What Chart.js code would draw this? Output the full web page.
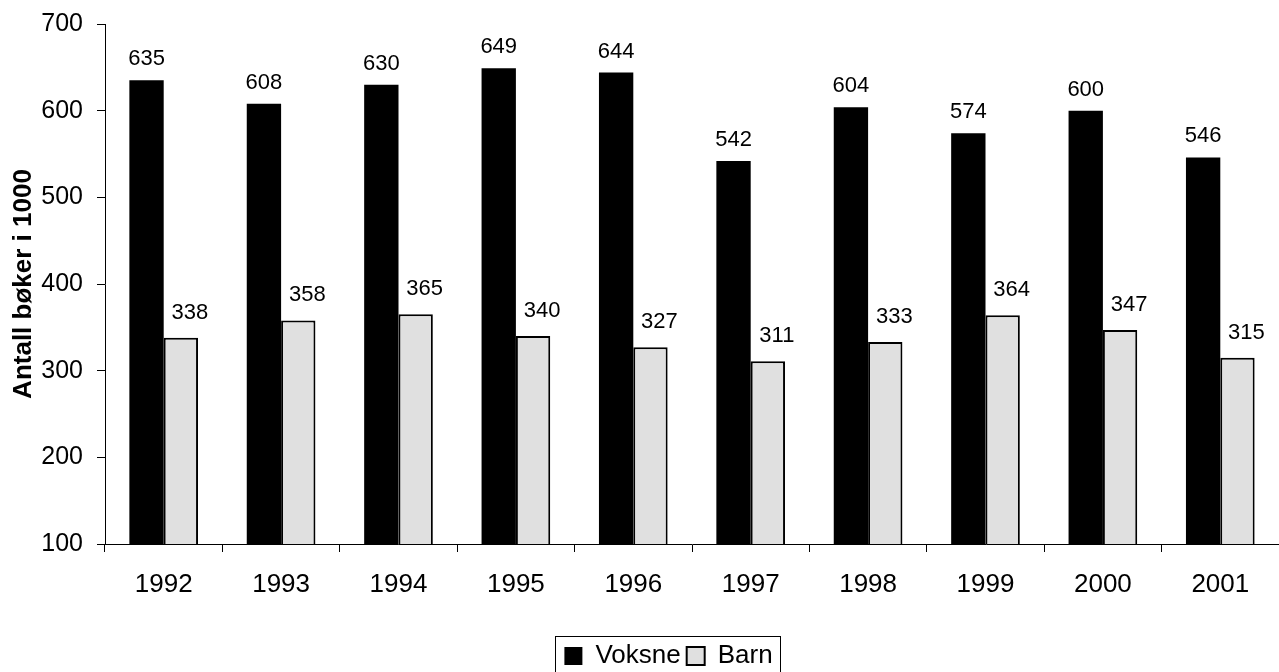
<!doctype html>
<html lang="no">
 <head>
  <meta charset="utf-8">
  <title>Antall bøker i 1000</title>
  <style>
body { margin: 0; background: #fff; }
.chart-box { width: 1279px; height: 672px; }
  </style>
 </head>
 <body>
  <div class="chart-box"><canvas id="bookchart"></canvas></div>

  <script src="https://cdn.jsdelivr.net/npm/chart.js@4.4.1/dist/chart.umd.min.js"></script>
  <script>
var years = ['1992', '1993', '1994', '1995', '1996', '1997', '1998', '1999', '2000', '2001'];
var voksne = [635, 608, 630, 649, 644, 542, 604, 574, 600, 546];
var barn = [338, 358, 365, 340, 327, 311, 333, 364, 347, 315];
var yTicks = [100, 200, 300, 400, 500, 600, 700];

Chart.defaults.font.family = "'Liberation Sans', Arial, sans-serif";
Chart.defaults.color = '#000';

// value labels above the bars (Barn labels sit a bit to the right, like the original)
const valueLabels = {
  id: 'valueLabels',
  afterDatasetsDraw(chart) {
    const ctx = chart.ctx;
    ctx.save();
    ctx.font = "22px 'Liberation Sans', Arial, sans-serif";
    ctx.fillStyle = '#000';
    ctx.textAlign = 'center';
    ctx.textBaseline = 'alphabetic';
    chart.data.datasets.forEach(function (ds, i) {
      const meta = chart.getDatasetMeta(i);
      const dx = i === 1 ? 9 : 0;
      const gap = i === 1 ? 19 : 15;
      meta.data.forEach(function (bar, j) {
        ctx.fillText(String(ds.data[j]), bar.x + dx, bar.y - gap);
      });
    });
    ctx.restore();
  }
};

// move the legend a little and draw a frame around it
const legendFrame = {
  id: 'legendFrame',
  afterLayout(chart) {
    const lg = chart.legend;
    lg.left += 29; lg.right += 29;
    lg.top += 7; lg.bottom += 7;
  },
  afterDraw(chart) {
    const hb = chart.legend.legendHitBoxes;
    if (!hb || !hb.length) return;
    let l = Infinity, r = -Infinity, t = Infinity, b = -Infinity;
    hb.forEach(function (h) {
      l = Math.min(l, h.left); r = Math.max(r, h.left + h.width);
      t = Math.min(t, h.top); b = Math.max(b, h.top + h.height);
    });
    const ctx = chart.ctx;
    ctx.save();
    ctx.strokeStyle = '#000';
    ctx.lineWidth = 1;
    ctx.strokeRect(Math.round(l - 9) + 0.5, Math.round(t - 7) + 0.5, Math.round(r - l + 17), Math.round(b - t + 11));
    ctx.restore();
  }
};

const chart = new Chart(document.getElementById('bookchart'), {
  type: 'bar',
  data: {
    labels: years,
    datasets: [
      {
        label: 'Voksne',
        data: voksne,
        backgroundColor: '#000',
        borderColor: '#000',
        borderWidth: 0,
        categoryPercentage: 0.585,
        barPercentage: 1.0
      },
      {
        label: 'Barn',
        data: barn,
        backgroundColor: '#e0e0e0',
        borderColor: '#000',
        borderWidth: 2,
        borderSkipped: false,
        categoryPercentage: 0.585,
        barPercentage: 1.0
      }
    ]
  },
  options: {
    animation: false,
    responsive: true,
    maintainAspectRatio: false,
    layout: { padding: { top: 24, right: 0, bottom: 0, left: 0 } },
    scales: {
      x: {
        grid: {
          offset: true,
          drawOnChartArea: false,
          drawTicks: true,
          tickLength: 8,
          color: '#000'
        },
        border: { color: '#000', width: 1 },
        ticks: { font: { size: 26 }, padding: 17, maxRotation: 0 },
        afterFit(scale) { scale.height = 86; }
      },
      y: {
        min: 100,
        max: 700,
        afterBuildTicks(scale) {
          scale.ticks = yTicks.map(function (v) { return { value: v }; });
        },
        grid: {
          drawOnChartArea: false,
          drawTicks: true,
          tickLength: 8,
          color: '#000'
        },
        border: { color: '#000', width: 1 },
        ticks: { font: { size: 25 }, padding: 14 },
        title: {
          display: true,
          text: 'Antall bøker i 1000',
          font: { size: 26, weight: 'bold' },
          padding: { top: 8, bottom: 0 }
        },
        afterFit(scale) {
          scale.width = 105;
          scale.paddingTop = 0;
        }
      }
    },
    plugins: {
      legend: {
        display: true,
        position: 'bottom',
        labels: {
          boxWidth: 18,
          boxHeight: 18,
          padding: 6,
          font: { size: 26 },
          color: '#000'
        }
      },
      title: { display: false },
      tooltip: { enabled: false }
    }
  },
  plugins: [valueLabels, legendFrame]
});
  </script>
 </body>
</html>
